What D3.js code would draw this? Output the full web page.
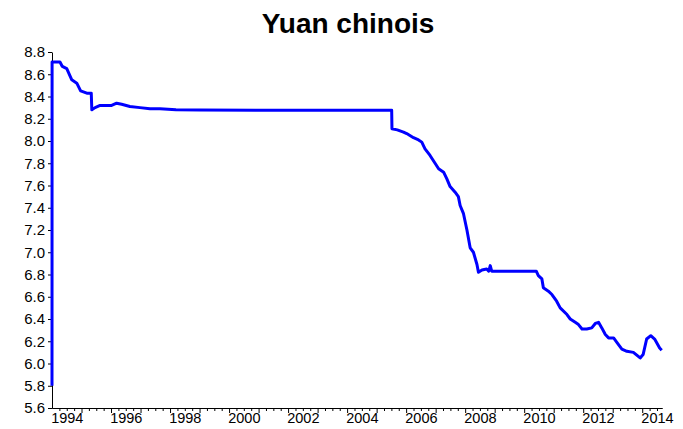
<!DOCTYPE html>
<html>
<head>
<meta charset="utf-8">
<script src="https://cdn.jsdelivr.net/npm/d3@7"></script>
<style>
  body { margin: 0; background: #fff; }
  text { font-family: Arial, "Liberation Sans", sans-serif; }
</style>
</head>
<body>
<div id="chart"></div>
<script>

// decimal years and CNY per USD
let dates = [
    1994.000, 1994.003, 1994.27, 1994.35, 1994.50, 1994.67, 1994.84, 1994.97,
    1995.18, 1995.33, 1995.35, 1995.46, 1995.63, 1995.85, 1996.02, 1996.19,
    1996.36, 1996.64, 1996.98, 1997.32, 1997.66, 1998.20, 1999.00, 2001.00,
    2003.00, 2005.51, 2005.52, 2005.70, 2005.91, 2006.02, 2006.25, 2006.42,
    2006.53, 2006.64, 2006.81, 2006.98, 2007.10, 2007.27, 2007.38, 2007.49,
    2007.66, 2007.77, 2007.83, 2007.94, 2008.06, 2008.17, 2008.28, 2008.40,
    2008.45, 2008.57, 2008.73, 2008.80, 2008.85, 2008.90, 2008.96, 2009.19,
    2009.64, 2010.41, 2010.48, 2010.60, 2010.65, 2010.82, 2010.94, 2011.10,
    2011.22, 2011.45, 2011.56, 2011.73, 2011.84, 2011.96, 2012.12, 2012.29,
    2012.41, 2012.52, 2012.63, 2012.75, 2012.86, 2013.03, 2013.14, 2013.31,
    2013.48, 2013.70, 2013.93, 2014.03, 2014.15, 2014.29, 2014.42, 2014.59,
    2014.66
];

let rates = [
    5.80, 8.71, 8.71, 8.67, 8.65, 8.55, 8.52, 8.45,
    8.43, 8.43, 8.28, 8.30, 8.32, 8.32, 8.32, 8.34,
    8.33, 8.31, 8.30, 8.29, 8.29, 8.28, 8.279, 8.277,
    8.277, 8.277, 8.11, 8.10, 8.08, 8.067, 8.03, 8.01,
    7.99, 7.93, 7.87, 7.80, 7.75, 7.72, 7.66, 7.59,
    7.54, 7.50, 7.42, 7.35, 7.20, 7.04, 7.00, 6.89,
    6.82, 6.84, 6.85, 6.83, 6.88, 6.83, 6.83, 6.83,
    6.83, 6.83, 6.79, 6.76, 6.68, 6.65, 6.62, 6.56,
    6.50, 6.44, 6.40, 6.37, 6.35, 6.31, 6.31, 6.32,
    6.36, 6.37, 6.32, 6.26, 6.23, 6.23, 6.19, 6.13,
    6.11, 6.10, 6.05, 6.08, 6.22, 6.25, 6.22, 6.14,
    6.12
];

let y_ticks = [5.6, 5.8, 6.0, 6.2, 6.4, 6.6, 6.8, 7.0, 7.2, 7.4, 7.6, 7.8, 8.0, 8.2, 8.4, 8.6, 8.8];
let label_years = [1994, 1996, 1998, 2000, 2002, 2004, 2006, 2008, 2010, 2012, 2014];
let title_text = "Yuan chinois";


function draw_chart() {

    let chart_width = 683;
    let chart_height = 429;

    let margin_top = 52;
    let margin_left = 52;
    let margin_right = 21;
    let margin_bottom = 21;

    let width = chart_width - margin_left - margin_right;
    let height = chart_height - margin_top - margin_bottom;

    let svg = d3.select("#chart")
                .append("svg")
                .attr("width", chart_width)
                .attr("height", chart_height);

    svg.append("text")
        .attr("x", 348)
        .attr("y", 33)
        .attr("text-anchor", "middle")
        .style("font-size", "28px")
        .style("font-weight", "bold")
        .text(title_text);

    let g = svg.append("g")
                .attr("transform", "translate(" + margin_left + "," + margin_top + ")");

    let xScale = d3.scaleLinear()
                    .domain([1994, 2014.67])
                    .range([0, width]);

    let yScale = d3.scaleLinear()
                    .domain([5.6, 8.8])
                    .range([height, 0]);

    // quarterly minor ticks, yearly major ticks
    let quarters = [];
    let years = [];
    for (let yr = 1994; yr <= 2014; yr++) {
        if (yr > 1994) years.push(yr);
        for (let q = 1; q < 4; q++) {
            if (yr + q / 4 < 2014.67) quarters.push(yr + q / 4);
        }
    }

    g.append("g")
        .attr("class", "x axis minor")
        .attr("transform", "translate(0," + height + ")")
        .call(d3.axisBottom(xScale).tickValues(quarters).tickSize(3).tickSizeOuter(0).tickFormat(""));

    g.append("g")
        .attr("class", "x axis major")
        .attr("transform", "translate(0," + height + ")")
        .call(d3.axisBottom(xScale).tickValues(years).tickSize(5).tickSizeOuter(0).tickFormat(""));

    let x_labels = g.append("g")
        .attr("class", "x axis labels")
        .attr("transform", "translate(0," + height + ")")
        .call(d3.axisBottom(xScale)
            .tickValues(label_years.map(d => d + 0.5))
            .tickSize(0)
            .tickPadding(5)
            .tickFormat((d, i) => String(label_years[i])));
    x_labels.select(".domain").remove();

    g.append("g")
        .attr("class", "y axis")
        .call(d3.axisLeft(yScale).tickValues(y_ticks).tickSize(4).tickSizeOuter(0).tickPadding(3)
            .tickFormat(d3.format(".1f")));

    g.selectAll(".axis text")
        .style("font-family", "Arial, 'Liberation Sans', sans-serif")
        .style("fill", "#000");
    g.selectAll(".x.axis text").style("font-size", "14.5px");
    g.selectAll(".y.axis text").style("font-size", "15px");
    g.selectAll(".axis line, .axis path").attr("stroke", "#000");

    let line = d3.line()
                .x(function(d, i) { return xScale(dates[i]); })
                .y(function(d) { return yScale(d); });

    g.append("path")
        .datum(rates)
        .attr("d", line)
        .attr("fill", "none")
        .attr("stroke", "#0000ff")
        .attr("stroke-width", 3)
        .attr("stroke-linejoin", "round");
}

draw_chart();

</script>
</body>
</html>
